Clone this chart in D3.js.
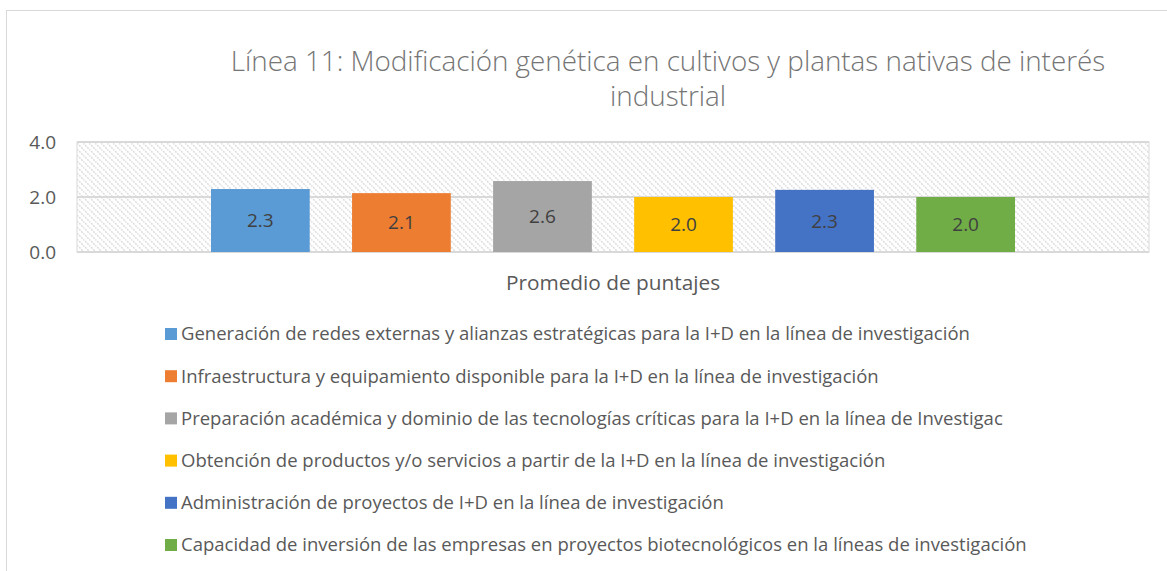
<!DOCTYPE html>
<html>
<head>
<meta charset="utf-8">
<script src="https://cdn.jsdelivr.net/npm/d3@7"></script>
<style>
  body { margin: 0; background: #fff; }
  text { font-family: "Open Sans", Lato, sans-serif; }
</style>
</head>
<body>
<script>
var categories = ['Promedio de puntajes'];
var series = [
  'Generación de redes externas y alianzas estratégicas para la I+D en la línea de investigación',
  'Infraestructura y equipamiento disponible para la I+D en la línea de investigación',
  'Preparación académica y dominio de las tecnologías críticas para la I+D en la línea de Investigac',
  'Obtención de productos y/o servicios a partir de la I+D en la línea de investigación',
  'Administración de proyectos de I+D en la línea de investigación',
  'Capacidad de inversión de las empresas en proyectos biotecnológicos en la líneas de investigación'
];
var values = [2.29, 2.14, 2.58, 2.0, 2.26, 2.0];
var colors = ['#5b9bd5', '#ed7d31', '#a5a5a5', '#ffc000', '#4472c4', '#70ad47'];
var yTicks = [0, 2, 4];
var titleLines = ['Línea 11: Modificación genética en cultivos y plantas nativas de interés', 'industrial'];

var W = 1167, H = 571;
var svg = d3.select('body').append('svg')
  .attr('width', W)
  .attr('height', H);

// chart frame
svg.append('rect')
  .attr('x', 6.5).attr('y', 10.5)
  .attr('width', W + 10).attr('height', H + 10)
  .attr('fill', '#fff')
  .attr('stroke', '#d9d9d9');

// hatch pattern for the plot area
var pat = svg.append('defs').append('pattern')
  .attr('id', 'hatch')
  .attr('patternUnits', 'userSpaceOnUse')
  .attr('width', 6).attr('height', 6);
pat.append('path')
  .attr('d', 'M-1,-1 L7,7 M-1,5 L1,7 M5,-1 L7,1')
  .attr('stroke', '#dcdcdc')
  .attr('stroke-width', 1.5)
  .attr('stroke-dasharray', '2,1');

var plot = { left: 77, right: 1149, top: 142, bottom: 252 };

var y = d3.scaleLinear().domain([0, 4]).range([plot.bottom, plot.top]);
var x0 = d3.scaleBand().domain(categories).range([plot.left, plot.right]);
var x1 = d3.scaleBand().domain(series)
  .range([134, x0.bandwidth() - 134])
  .paddingInner(0.3).paddingOuter(0);
var color = d3.scaleOrdinal().domain(series).range(colors);

svg.append('rect')
  .attr('x', plot.left).attr('y', plot.top)
  .attr('width', plot.right - plot.left).attr('height', plot.bottom - plot.top)
  .attr('fill', 'url(#hatch)')
  .attr('stroke', '#d9d9d9');

// gridlines
svg.append('g').selectAll('line')
  .data(yTicks)
  .enter().append('line')
    .attr('x1', plot.left).attr('x2', plot.right)
    .attr('y1', function(d) { return y(d); })
    .attr('y2', function(d) { return y(d); })
    .style('stroke', '#d9d9d9')
    .style('stroke-width', 2);

// y axis labels
var yAxis = svg.append('g')
  .attr('transform', 'translate(' + (plot.left - 21) + ',0)')
  .call(d3.axisLeft(y).tickValues(yTicks).tickFormat(d3.format('.1f')).tickSize(0).tickPadding(0));
yAxis.select('.domain').remove();
yAxis.selectAll('text')
  .style('font-size', '19px')
  .style('fill', '#595959')
  .style('font-family', '"Open Sans", Lato, sans-serif');

// bars
var group = svg.append('g').selectAll('g')
  .data(categories)
  .enter().append('g')
    .attr('transform', function(d) { return 'translate(' + x0(d) + ',0)'; });

var bars = group.selectAll('g')
  .data(series.map(function(s, i) { return { name: s, value: values[i] }; }))
  .enter().append('g');

bars.append('rect')
  .attr('x', function(d) { return x1(d.name); })
  .attr('width', x1.bandwidth())
  .attr('y', function(d) { return y(d.value); })
  .attr('height', function(d) { return y(0) - y(d.value); })
  .style('fill', function(d) { return color(d.name); });

bars.append('text')
  .attr('x', function(d) { return x1(d.name) + x1.bandwidth() / 2; })
  .attr('y', function(d) { return (y(d.value) + y(0)) / 2; })
  .attr('dy', '0.35em')
  .attr('text-anchor', 'middle')
  .style('font-size', '19px')
  .style('fill', '#404040')
  .text(function(d) { return d3.format('.1f')(d.value); });

// category label
svg.append('g').selectAll('text')
  .data(categories)
  .enter().append('text')
    .attr('x', function(d) { return x0(d) + x0.bandwidth() / 2; })
    .attr('y', 290)
    .attr('text-anchor', 'middle')
    .style('font-size', '20.8px')
    .style('fill', '#595959')
    .text(function(d) { return d; });

// title
svg.append('g').selectAll('text')
  .data(titleLines)
  .enter().append('text')
    .attr('x', 668)
    .attr('y', function(d, i) { return 71 + i * 35; })
    .attr('text-anchor', 'middle')
    .style('font-size', '27.8px')
    .style('font-weight', 300)
    .style('fill', '#757575')
    .text(function(d) { return d; });

// legend
var legend = svg.append('g').selectAll('g')
  .data(series)
  .enter().append('g')
    .attr('transform', function(d, i) { return 'translate(165,' + (334 + i * 42.2) + ')'; });

legend.append('rect')
  .attr('x', 0).attr('y', -6)
  .attr('width', 12).attr('height', 12)
  .style('fill', function(d) { return color(d); });

legend.append('text')
  .attr('x', 16)
  .attr('dy', '0.35em')
  .style('font-size', '18.5px')
  .style('fill', '#595959')
  .text(function(d) { return d; });
</script>
</body>
</html>
